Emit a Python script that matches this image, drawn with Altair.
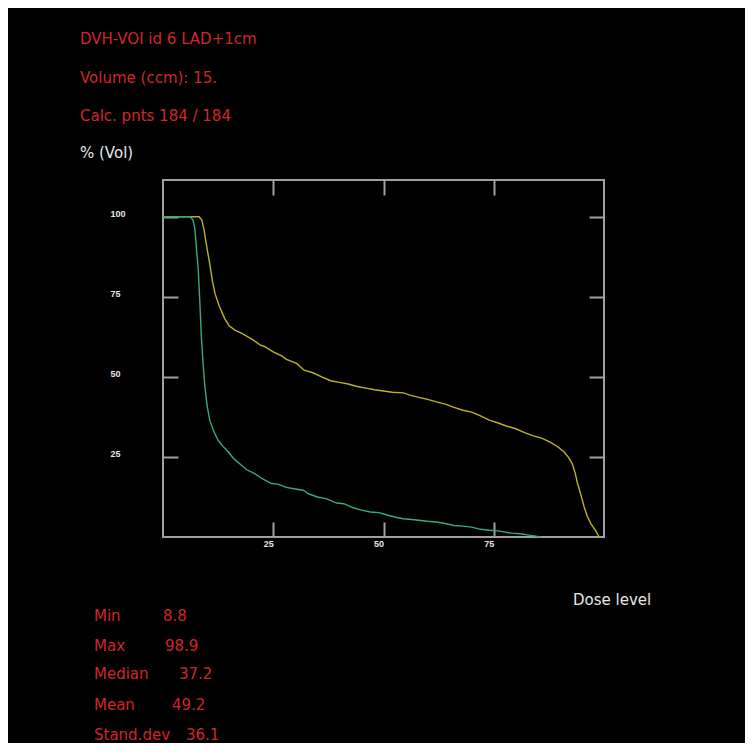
import altair as alt
import pandas as pd

# Cumulative DVH curves (dose level %, volume %)
yellow_dose = [0, 8.2, 8.8, 9.3, 10, 10.6, 11.2, 11.8, 12.8, 14, 15, 16.3, 18, 20.5, 22, 23, 25,
               27, 28, 30.3, 32, 34, 36, 38, 40, 42, 44, 46, 48, 50, 52, 54.5, 56, 58, 60, 62,
               64, 66, 68, 70, 72, 74, 76, 78, 80, 82, 84, 86, 88, 89.5, 90.9, 92, 92.8, 93.5,
               94, 94.8, 95.5, 96.2, 97, 98, 98.9]
yellow_vol = [100, 100, 99, 96, 90, 85.4, 80, 76, 72, 68.2, 66, 64.6, 63.5, 61.5, 60, 59.5, 57.8,
              56.5, 55.5, 54.2, 52.1, 51.3, 50, 48.8, 48.3, 47.8, 47, 46.5, 46, 45.6, 45.2, 45,
              44.3, 43.6, 43, 42.2, 41.5, 40.5, 39.6, 39, 37.8, 36.5, 35.6, 34.6, 33.8, 32.6,
              31.6, 30.8, 29.5, 28.2, 26.6, 24.8, 22.9, 19.8, 16.7, 13, 9.4, 6.5, 4.2, 2.2, 0]

green_dose = [0, 6.2, 6.8, 7.2, 7.6, 8.0, 8.4, 8.7, 9.1, 9.5, 10, 10.6, 11.5, 12.5, 13.6, 14.8,
              16, 17.8, 19, 20.8, 22.5, 24.6, 26, 28, 30, 31.8, 33, 35, 37, 39.4, 41, 43, 45,
              47, 49, 51, 53, 54.5, 57, 60, 62, 64, 66, 68, 70, 72, 74, 76, 77.3, 79, 81, 83, 85.6]
green_vol = [100, 100, 99, 96.5, 90, 83.3, 72, 62.5, 54, 46.9, 41, 36.5, 33, 30.2, 28.3, 26.6,
             24.5, 22.4, 21, 19.8, 18.2, 16.7, 16.5, 15.5, 15, 14.6, 13.5, 12.5, 12, 10.6, 10.4,
             9.2, 8.4, 7.8, 7.6, 6.8, 6.1, 5.7, 5.4, 4.9, 4.7, 4.2, 3.6, 3.4, 3.1, 2.4, 2.1, 1.9,
             1.6, 1.2, 1.0, 0.6, 0]

x_ticks = [25, 50, 75]
y_ticks = [25, 50, 75, 100]

header_lines = ["DVH-VOI id 6 LAD+1cm", "Volume (ccm): 15.", "Calc. pnts 184 / 184"]
stat_names = ["Min", "Max", "Median", "Mean", "Stand.dev"]
stat_values = ["8.8", "98.9", "37.2", "49.2", "36.1"]

RED = "#d0262a"
GRAY = "#a0a0a0"
LABEL = "#e6e6e6"
FONT = "DejaVu Sans"

yellow = pd.DataFrame({"dose": yellow_dose, "vol": yellow_vol})
green = pd.DataFrame({"dose": green_dose, "vol": green_vol})

xscale = alt.Scale(domain=[0, 100], nice=False, zero=False)
yscale = alt.Scale(domain=[0, 111.5], nice=False, zero=False)

axis_common = dict(domain=False, grid=False, tickSize=15, offset=-15, tickColor=GRAY,
                   tickWidth=2, title=None)

x_bottom = alt.Axis(orient="bottom", values=x_ticks, labelAlign="right", labelBaseline="alphabetic",
                    labelPadding=9, labelFont="Liberation Sans", labelFontWeight="bold",
                    labelFontSize=9, labelColor=LABEL, **axis_common)
y_left = alt.Axis(orient="left", values=y_ticks, labelAlign="left", labelBaseline="alphabetic",
                  labelPadding=53, labelFont="Liberation Sans", labelFontWeight="bold",
                  labelFontSize=9, labelColor=LABEL, **axis_common)
x_top = alt.Axis(orient="top", values=x_ticks, labels=False, **axis_common)
y_right = alt.Axis(orient="right", values=y_ticks, labels=False, **axis_common)

line_y = alt.Chart(yellow).mark_line(color="#b9b424", strokeWidth=1.4, interpolate="linear").encode(
    x=alt.X("dose:Q", scale=xscale, axis=x_bottom),
    y=alt.Y("vol:Q", scale=yscale, axis=y_left),
    order="dose:Q",
)
line_g = alt.Chart(green).mark_line(color="#3aaa78", strokeWidth=1.4, interpolate="linear").encode(
    x=alt.X("dose:Q", scale=xscale, axis=x_top),
    y=alt.Y("vol:Q", scale=yscale, axis=y_right),
    order="dose:Q",
)

# Text annotations, positioned relative to the plot area's top-left corner
def txt(s, x, y, color, size=15):
    return alt.Chart(pd.DataFrame({"t": [s]})).mark_text(
        align="left", baseline="alphabetic", font=FONT, fontSize=size, color=color
    ).encode(text="t:N", x=alt.value(x), y=alt.value(y))

OX, OY = 163, 180  # plot origin in page coordinates
texts = []
for s, by in zip(header_lines, [44, 82.5, 120.5]):
    texts.append(txt(s, 80 - OX, by - OY, RED))
texts.append(txt("% (Vol)", 80 - OX, 158 - OY, LABEL))
texts.append(txt("Dose level", 573 - OX, 605 - OY, LABEL))
for name, val, by, vx in zip(stat_names, stat_values, [620.5, 650.7, 679.3, 710, 740],
                             [163, 165, 179, 172, 186]):
    texts.append(txt(name, 94 - OX, by - OY, RED))
    texts.append(txt(val, vx - OX, by - OY, RED))

chart = alt.layer(line_y, line_g, *texts).resolve_axis(x="independent", y="independent").properties(
    width=441, height=357,
    autosize=alt.AutoSizeParams(type="none"),
    padding={"left": 155, "top": 172, "right": 141, "bottom": 206},
    background="black",
).configure_view(stroke=GRAY, strokeWidth=2)

chart.save("out.html", embed_options={"renderer": "svg", "actions": False})
